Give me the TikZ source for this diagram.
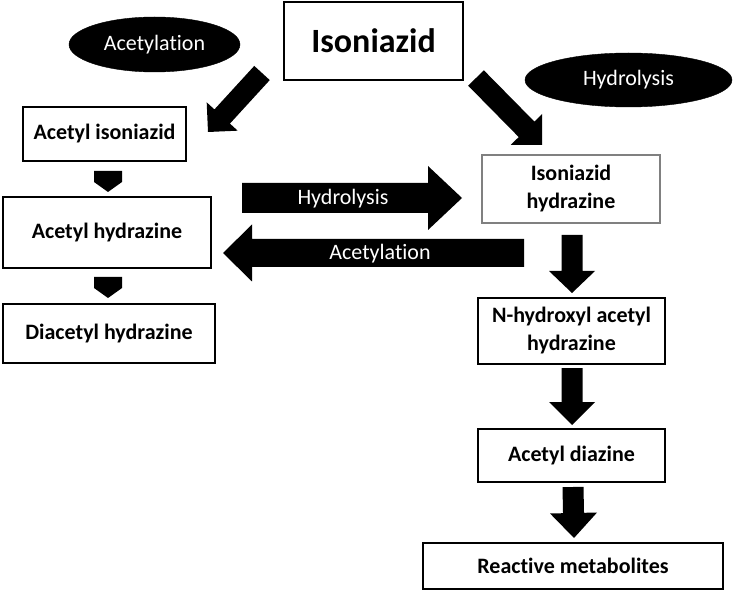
\documentclass[tikz,border=0pt]{standalone}
\usepackage{fontspec}
\setmainfont[Ligatures=NoCommon]{Carlito}
\usepackage{tikz}
\usetikzlibrary{shapes}
\usetikzlibrary{calc}
\usetikzlibrary{positioning}

\begin{document}
\begin{tikzpicture}[x=1pt,y=-1pt]
% définition des paramètres
\tikzstyle boite=[draw=black,line width=1.2pt,fill=white,align=center,font=\fontsize{22}{28}\selectfont\bfseries]
\tikzstyle titre=[boite,font=\fontsize{34}{38}\selectfont\bfseries]
\tikzstyle ellipsenoire=[ellipse,draw=black,fill=black,text=white,inner sep=0pt,font=\fontsize{22}{26}\selectfont]
\tikzstyle textefleche=[text=white,inner sep=0pt,font=\fontsize{22}{26}\selectfont]
\tikzstyle flechenoire=[fill=black]
% #1 départ, #2 pointe, #3 demi-largeur du corps, #4 demi-largeur de la tête, #5 longueur de la tête
\newcommand{\grossefleche}[5]{%
  \coordinate (base) at ($(#2)!#5!(#1)$);
  \fill[flechenoire] ($(#1)!#3!90:(#2)$) -- ($(base)!#3!90:(#2)$) -- ($(base)!#4!90:(#2)$) -- (#2)
    -- ($(base)!#4!-90:(#2)$) -- ($(base)!#3!-90:(#2)$) -- ($(#1)!#3!-90:(#2)$) -- cycle;
}
\useasboundingbox (0,0) rectangle (733,593);
% les boîtes
\node[titre,minimum width=179pt,minimum height=78pt] (iso) at (373.5,41) {Isoniazid};
\node[boite,minimum width=163pt,minimum height=54pt] (acetiso) at (104.5,134) {Acetyl isoniazid};
\node[boite,minimum width=208pt,minimum height=71pt] (acethyd) at (107,232.5) {Acetyl hydrazine};
\node[boite,minimum width=212pt,minimum height=59pt] (diacet) at (109,333.5) {Diacetyl hydrazine};
\node[boite,draw=black!50,minimum width=178pt,minimum height=68pt] (isohyd) at (571,189) {Isoniazid\\hydrazine};
\node[boite,minimum width=187pt,minimum height=66pt] (nhydrox) at (571.5,331) {N-hydroxyl acetyl\\hydrazine};
\node[boite,minimum width=187pt,minimum height=53pt] (acetdiaz) at (571.5,455.5) {Acetyl diazine};
\node[boite,minimum width=300pt,minimum height=46pt] (reactif) at (573,566) {Reactive metabolites};
% les ellipses
\node[ellipsenoire,minimum width=171pt,minimum height=55pt] (ellacet) at (154.5,44.5) {Acetylation};
\node[ellipsenoire,minimum width=207pt,minimum height=54pt] (ellhydro) at (628.5,80) {Hydrolysis};
% les flèches diagonales
\coordinate (d1) at (262,73);  \coordinate (d2) at (208,132);
\coordinate (d3) at (476,78);  \coordinate (d4) at (542,145);
\grossefleche{d1}{d2}{10.5pt}{21pt}{21pt}
\grossefleche{d3}{d4}{11pt}{22pt}{22pt}
% les petites flèches à gauche
\coordinate (g1) at (108,171); \coordinate (g2) at (108,192);
\coordinate (g3) at (108,277); \coordinate (g4) at (108,298);
\grossefleche{g1}{g2}{14pt}{14pt}{10pt}
\grossefleche{g3}{g4}{14pt}{14pt}{10pt}
% les flèches horizontales
\coordinate (h1) at (242,198); \coordinate (h2) at (462,198);
\coordinate (h3) at (524,253); \coordinate (h4) at (223,253);
\grossefleche{h1}{h2}{15pt}{32pt}{34pt}
\grossefleche{h3}{h4}{14pt}{28.5pt}{29pt}
\node[textefleche] (thydro) at (343,199) {Hydrolysis};
\node[textefleche] (tacet) at (380,254) {Acetylation};
% les flèches verticales à droite
\coordinate (v1) at (572,235); \coordinate (v2) at (572,293);
\coordinate (v3) at (572,368); \coordinate (v4) at (572,425);
\coordinate (v5) at (573,487); \coordinate (v6) at (574,538);
\grossefleche{v1}{v2}{10.5pt}{23pt}{22pt}
\grossefleche{v3}{v4}{10.5pt}{23pt}{23pt}
\grossefleche{v5}{v6}{10.5pt}{23.5pt}{25pt}
\end{tikzpicture}
\end{document}
